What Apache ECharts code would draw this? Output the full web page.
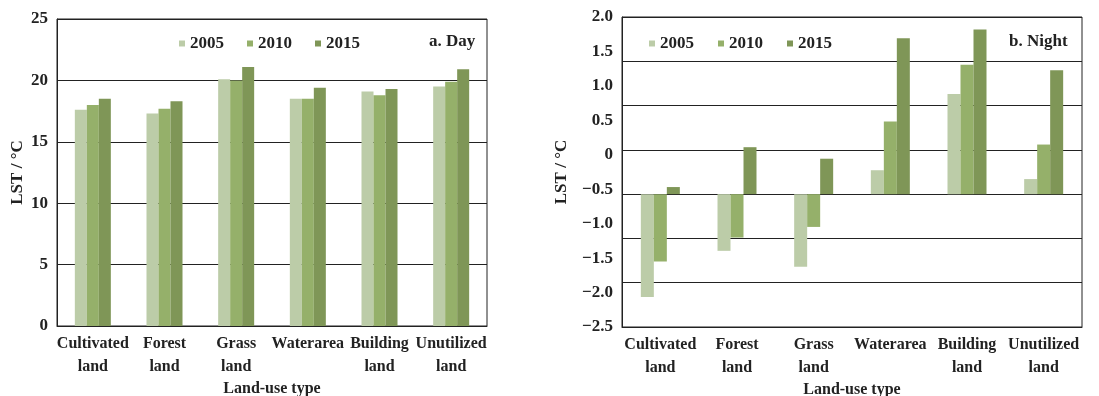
<!DOCTYPE html>
<html>
<head>
<meta charset="utf-8">
<script src="https://cdn.jsdelivr.net/npm/echarts@6/dist/echarts.min.js"></script>
<style>
  html, body { margin: 0; padding: 0; background: #fff; }
  #chart { width: 1099px; height: 396px; }
</style>
</head>
<body>
<div id="chart"></div>
<script>
const categories = ['Cultivated\nland', 'Forest\nland', 'Grass\nland', 'Waterarea', 'Building\nland', 'Unutilized\nland'];
const years = ['2005', '2010', '2015'];

// a. Day, LST in °C
const day2005 = [17.6, 17.3, 20.1, 18.5, 19.1, 19.5];
const day2010 = [18.0, 17.7, 20.0, 18.5, 18.8, 19.9];
const day2015 = [18.5, 18.3, 21.1, 19.4, 19.3, 20.9];

// b. Night, measured against the gridlines (bars grow from the 4th line down)
const night2005 = [-1.16, -0.64, -0.82, 0.27, 1.13, 0.17];
const night2010 = [-0.76, -0.49, -0.37, 0.82, 1.46, 0.56];
const night2015 = [0.08, 0.53, 0.40, 1.76, 1.86, 1.40];

// printed tick labels on the night panel, top to bottom
const nightTicks = ['2.0', '1.5', '1.0', '0.5', '0', '\u22120.5', '\u22121.0', '\u22121.5', '\u22122.0', '\u22122.5'];

const colors = ['#bccca8', '#95b06a', '#7f9657'];
const font = 'Liberation Serif';
const ink = '#222';

const baseText = { fontFamily: font, fontWeight: 'bold', color: ink };

function xAxisFor(gridIndex) {
  return {
    type: 'category',
    gridIndex: gridIndex,
    data: categories,
    name: 'Land-use type',
    nameLocation: 'middle',
    nameGap: 55,
    nameMoveOverlap: false,
    nameTextStyle: Object.assign({ fontSize: 16, verticalAlign: 'top' }, baseText),
    axisLine: { onZero: false, lineStyle: { color: ink, width: 1 } },
    axisTick: { show: false },
    axisLabel: Object.assign({ interval: 0, fontSize: 16, lineHeight: 23, margin: 6 }, baseText)
  };
}

function bars(name, data, color, xi, yi, width) {
  return {
    name: name,
    type: 'bar',
    xAxisIndex: xi,
    yAxisIndex: yi,
    data: data,
    barWidth: width,
    barGap: '0%',
    itemStyle: { color: color },
    emphasis: { disabled: true }
  };
}

const chart = echarts.init(document.getElementById('chart'));
chart.setOption({
  animation: false,
  color: colors,
  title: [
    { text: 'a. Day', left: 424, top: 28, textStyle: Object.assign({ fontSize: 17 }, baseText) },
    { text: 'b. Night', left: 1004, top: 28, textStyle: Object.assign({ fontSize: 17 }, baseText) }
  ],
  legend: [
    {
      data: years, left: 174, top: 30, itemWidth: 6, itemHeight: 6, itemGap: 23, icon: 'rect',
      textStyle: Object.assign({ fontSize: 17 }, baseText)
    },
    {
      data: years, left: 644, top: 30, itemWidth: 6, itemHeight: 6, itemGap: 24, icon: 'rect',
      textStyle: Object.assign({ fontSize: 17 }, baseText)
    }
  ],
  grid: [
    { left: 57, right: 612, top: 19, height: 307, outerBoundsMode: 'none', show: true, borderColor: ink, borderWidth: 1 },
    { left: 622, right: 17, top: 17, height: 310, outerBoundsMode: 'none', show: true, borderColor: ink, borderWidth: 1 }
  ],
  xAxis: [xAxisFor(0), xAxisFor(1)],
  yAxis: [
    {
      type: 'value', gridIndex: 0, min: 0, max: 25, interval: 5,
      name: 'LST / \u00b0C', nameLocation: 'middle', nameGap: 31, nameMoveOverlap: false,
      nameTextStyle: Object.assign({ fontSize: 17 }, baseText),
      axisLine: { show: true, lineStyle: { color: ink } },
      axisTick: { show: false },
      axisLabel: Object.assign({ fontSize: 17, margin: 9 }, baseText),
      splitLine: { lineStyle: { color: ink, width: 1 } }
    },
    {
      // scale the bars and gridlines are drawn on
      type: 'value', gridIndex: 1, position: 'left', min: -1.5, max: 2.0, interval: 0.5,
      axisLine: { show: true, lineStyle: { color: ink } },
      axisTick: { show: false },
      axisLabel: { show: false },
      splitLine: { lineStyle: { color: ink, width: 1 } }
    },
    {
      // printed labels, which run on their own spacing
      type: 'value', gridIndex: 1, position: 'left', offset: 0, min: -2.5, max: 2.0, interval: 0.5,
      name: 'LST / \u00b0C', nameLocation: 'middle', nameGap: 52, nameMoveOverlap: false,
      nameTextStyle: Object.assign({ fontSize: 17 }, baseText),
      axisLine: { show: false },
      axisTick: { show: false },
      splitLine: { show: false },
      axisLabel: Object.assign({
        fontSize: 17, margin: 9,
        formatter: function (v) { return nightTicks[Math.round((2.0 - v) / 0.5)]; }
      }, baseText)
    }
  ],
  series: [
    bars('2005', day2005, colors[0], 0, 0, 12),
    bars('2010', day2010, colors[1], 0, 0, 12),
    bars('2015', day2015, colors[2], 0, 0, 12),
    bars('2005', night2005, colors[0], 1, 1, 13),
    bars('2010', night2010, colors[1], 1, 1, 13),
    bars('2015', night2015, colors[2], 1, 1, 13)
  ]
});
</script>
</body>
</html>
